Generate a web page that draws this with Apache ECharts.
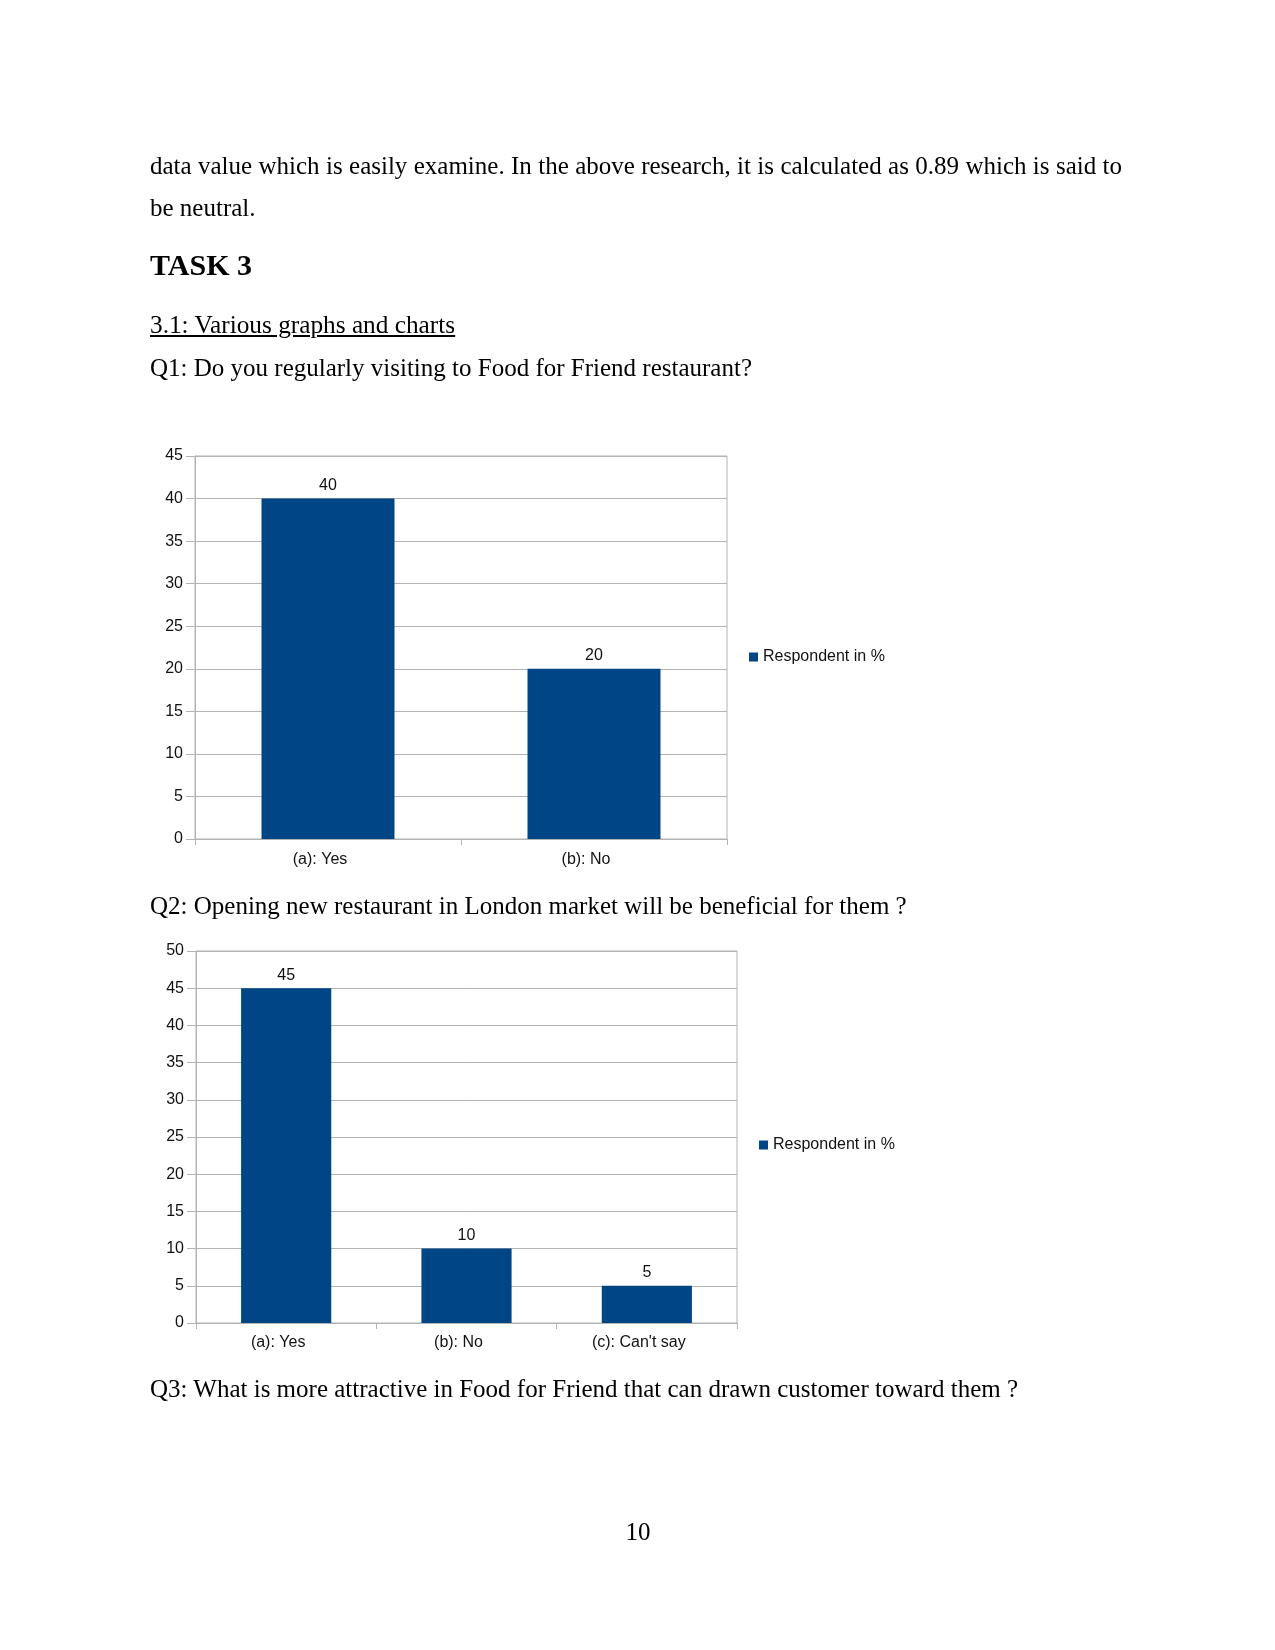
<!DOCTYPE html>
<html>
<head>
<meta charset="utf-8">
<script src="https://cdn.jsdelivr.net/npm/echarts@6/dist/echarts.min.js"></script>
<style>
  html, body { margin: 0; padding: 0; background: #fff; }
  #page { position: relative; width: 1275px; height: 1650px; overflow: hidden; }
  #chart { position: absolute; left: 0; top: 0; width: 1275px; height: 1650px; }
  .t { position: absolute; font-family: "Liberation Serif", "Times New Roman", serif; font-size: 25px; line-height: 25px; color: #000; white-space: nowrap; }
</style>
</head>
<body>
<div id="page">
  <div id="chart"></div>
  <div class="t" style="left:150px;top:153px;width:972px;text-align:justify;text-align-last:justify;">data value which is easily examine. In the above research, it is calculated as 0.89 which is said to</div>
  <div class="t" style="left:150px;top:195px;">be neutral.</div>
  <div class="t" style="left:150px;top:250px;font-size:30px;line-height:30px;font-weight:bold;">TASK 3</div>
  <div class="t" style="left:150px;top:312px;font-size:25.3px;text-decoration:underline;">3.1: Various graphs and charts</div>
  <div class="t" style="left:150px;top:355px;">Q1: Do you regularly visiting to Food for Friend restaurant?</div>
  <div class="t" style="left:150px;top:893px;">Q2: Opening new restaurant in London market will be beneficial for them ?</div>
  <div class="t" style="left:150px;top:1376px;">Q3: What is more attractive in Food for Friend that can drawn customer toward them ?</div>
  <div class="t" style="left:538px;top:1519px;width:200px;text-align:center;">10</div>
</div>
<script>
const seriesName = 'Respondent in %';
const q1Categories = ['(a): Yes', '(b): No'];
const q1Values = [40, 20];
const q1Max = 45;
const q2Categories = ['(a): Yes', '(b): No', "(c): Can't say"];
const q2Values = [45, 10, 5];
const q2Max = 50;
const yInterval = 5;

const barColor = '#004586';
const gridColor = '#b3b3b3';
const sans = '"Liberation Sans", Arial, sans-serif';
const txt = { fontFamily: sans, fontSize: 16, color: '#111' };

function xAxisCfg(gi, cats, margin) {
  return {
    type: 'category', gridIndex: gi, data: cats, boundaryGap: true,
    axisLine: { show: true, lineStyle: { color: gridColor } },
    axisTick: { show: true, length: 6, alignWithLabel: false, lineStyle: { color: gridColor } },
    axisLabel: Object.assign({ margin: margin, padding: [0, 16, 0, 0] }, txt),
    splitLine: { show: false }
  };
}
function yAxisCfg(gi, max) {
  return {
    type: 'value', gridIndex: gi, min: 0, max: max, interval: yInterval,
    axisLine: { show: true, lineStyle: { color: gridColor } },
    axisTick: { show: true, length: 9, lineStyle: { color: gridColor } },
    axisLabel: Object.assign({ margin: 12 }, txt),
    splitLine: { show: true, lineStyle: { color: gridColor, width: 1 } }
  };
}
function barSeries(idx, vals) {
  return {
    type: 'bar', name: seriesName, xAxisIndex: idx, yAxisIndex: idx, data: vals,
    barWidth: '50%', itemStyle: { color: barColor },
    label: Object.assign({ show: true, position: 'top', distance: 5 }, txt),
    animation: false
  };
}

const chart = echarts.init(document.getElementById('chart'), null, { renderer: 'canvas' });
chart.setOption({
  animation: false,
  grid: [
    { left: 195, top: 456, width: 532, height: 383, show: true, borderColor: gridColor, borderWidth: 1, containLabel: false },
    { left: 196, top: 951, width: 541, height: 372, show: true, borderColor: gridColor, borderWidth: 1, containLabel: false }
  ],
  xAxis: [xAxisCfg(0, q1Categories, 13), xAxisCfg(1, q2Categories, 12)],
  yAxis: [yAxisCfg(0, q1Max), yAxisCfg(1, q2Max)],
  legend: [
    { data: [seriesName], left: 749, top: 649, padding: 0, icon: 'rect', itemWidth: 9, itemHeight: 9, itemGap: 5, textStyle: txt, selectedMode: false },
    { data: [seriesName], left: 759, top: 1137, padding: 0, icon: 'rect', itemWidth: 9, itemHeight: 9, itemGap: 5, textStyle: txt, selectedMode: false }
  ],
  series: [barSeries(0, q1Values), barSeries(1, q2Values)]
});
</script>
</body>
</html>
